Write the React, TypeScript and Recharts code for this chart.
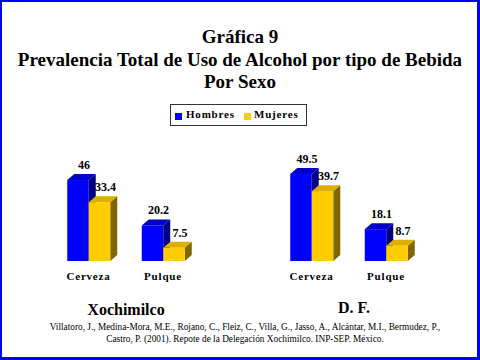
import React from 'react';
import { BarChart, Bar, XAxis, YAxis, LabelList } from 'recharts';

const bebidas = ['Cerveza', 'Pulque'];
const hombresXochimilco = [46, 20.2];
const mujeresXochimilco = [33.4, 7.5];
const hombresDF = [49.5, 18.1];
const mujeresDF = [39.7, 8.7];
const seriesNames = ['Hombres', 'Mujeres'];

const SERIF = "'Liberation Serif', 'Times New Roman', serif";
const DX = 7;
const DY = 6;

const FACES: Record<string, { front: string; top: string; side: string }> = {
  Hombres: { front: '#0000FF', top: '#0000C8', side: '#000080' },
  Mujeres: { front: '#FFCC00', top: '#DDAF00', side: '#806600' },
};

const buildData = (h: number[], m: number[]) =>
  bebidas.map((b, i) => ({ bebida: b, Hombres: h[i], Mujeres: m[i] }));

const Bar3D = (props: any) => {
  const { x, y, width: w, height: h, faces } = props;
  if (h == null || w == null) return null;
  const topPts = `${x},${y} ${x + DX},${y - DY} ${x + w + DX},${y - DY} ${x + w},${y}`;
  const sidePts = `${x + w},${y} ${x + w + DX},${y - DY} ${x + w + DX},${y + h - DY} ${x + w},${y + h}`;
  return (
    <g>
      <polygon points={sidePts} fill={faces.side} />
      <polygon points={topPts} fill={faces.top} />
      <rect x={x} y={y} width={w} height={h} fill={faces.front} />
    </g>
  );
};

const ValueLabel = (props: any) => {
  const { x, y, width, value } = props;
  return (
    <text
      x={x + width / 2 + 6}
      y={y - DY - 5}
      textAnchor="middle"
      fontFamily={SERIF}
      fontWeight="bold"
      fontSize={12}
      fill="#000"
    >
      {value}
    </text>
  );
};

const GroupChart = ({ data, left }: { data: any[]; left: number }) => (
  <div style={{ position: 'absolute', left, top: 140 }}>
    <BarChart
      width={230}
      height={160}
      data={data}
      margin={{ top: 15.4, left: 51.25, right: 29.75, bottom: 9 }}
      barGap={0}
      barSize={21.5}
    >
      <XAxis
        dataKey="bebida"
        axisLine={false}
        tickLine={false}
        tickMargin={5}
        height={30}
        interval={0}
        tick={{ fontFamily: SERIF, fontWeight: 'bold', fontSize: 11, fill: '#000', letterSpacing: 0.8 }}
      />
      <YAxis hide domain={[0, 60]} />
      {seriesNames.map((s) => (
        <Bar
          key={s}
          dataKey={s}
          isAnimationActive={false}
          shape={(p: any) => <Bar3D {...p} faces={FACES[s]} />}
        >
          <LabelList dataKey={s} content={<ValueLabel />} />
        </Bar>
      ))}
    </BarChart>
  </div>
);

export default function App() {
  const dataX = buildData(hombresXochimilco, mujeresXochimilco);
  const dataDF = buildData(hombresDF, mujeresDF);
  return (
    <div
      style={{
        position: 'absolute',
        left: 0,
        top: 0,
        width: 480,
        height: 360,
        background: '#fff',
        fontFamily: SERIF,
        color: '#000',
      }}
    >
      <div
        style={{
          position: 'absolute',
          left: 0,
          top: 26,
          width: 480,
          textAlign: 'center',
          fontWeight: 'bold',
          fontSize: 19,
          lineHeight: '22.5px',
        }}
      >
        <div>Gráfica 9</div>
        <div>Prevalencia Total de Uso de Alcohol por tipo de Bebida</div>
        <div>Por Sexo</div>
      </div>

      <div
        style={{
          position: 'absolute',
          left: 170,
          top: 104,
          width: 137,
          height: 22,
          boxSizing: 'border-box',
          border: '1px solid #333',
          fontWeight: 'bold',
          fontSize: 11,
          letterSpacing: 0.8,
        }}
      >
        <div style={{ position: 'absolute', left: 4, top: 8, width: 7, height: 7, background: FACES.Hombres.front }} />
        <div style={{ position: 'absolute', left: 15, top: 3, lineHeight: '13px' }}>Hombres</div>
        <div style={{ position: 'absolute', left: 73, top: 8, width: 7, height: 7, background: FACES.Mujeres.front }} />
        <div style={{ position: 'absolute', left: 83, top: 3, lineHeight: '13px' }}>Mujeres</div>
      </div>

      <GroupChart data={dataX} left={0} />
      <GroupChart data={dataDF} left={223} />

      <div style={{ position: 'absolute', left: 26, top: 300, width: 200, textAlign: 'center', fontWeight: 'bold', fontSize: 16, lineHeight: '20px' }}>
        Xochimilco
      </div>
      <div style={{ position: 'absolute', left: 254, top: 298, width: 200, textAlign: 'center', fontWeight: 'bold', fontSize: 16, lineHeight: '20px' }}>
        D. F.
      </div>

      <div style={{ position: 'absolute', left: 10, top: 321, width: 470, textAlign: 'center', fontSize: 9.3, lineHeight: '12px' }}>
        <div>Villatoro, J., Medina-Mora, M.E., Rojano, C., Fleiz, C., Villa, G., Jasso, A., Alcántar, M.I., Bermudez, P.,</div>
        <div>Castro, P. (2001). Repote de la Delegación Xochimilco. INP-SEP. México.</div>
      </div>

      <div
        style={{
          position: 'absolute',
          left: 0,
          top: 0,
          width: 480,
          height: 360,
          boxSizing: 'border-box',
          borderStyle: 'solid',
          borderColor: '#0000FF',
          borderWidth: '2px 3px 3px 2px',
          pointerEvents: 'none',
        }}
      />
    </div>
  );
}
